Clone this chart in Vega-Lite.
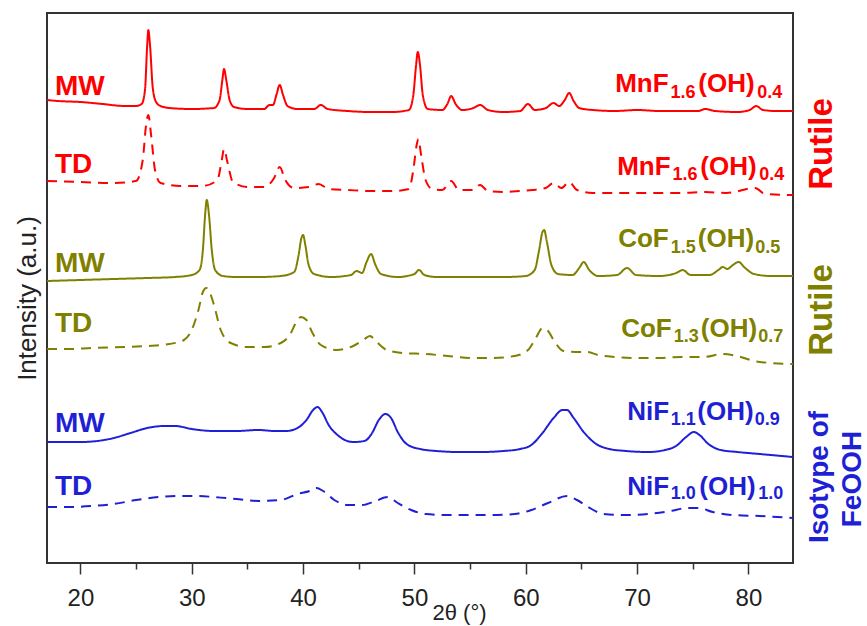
{
"$schema": "https://vega.github.io/schema/vega-lite/v6.json",
"width": 746, "height": 550,
"autosize": {"type": "none"},
"padding": {"left": 47, "top": 13, "right": 74, "bottom": 63},
"background": "white",
"config": {"view": {"stroke": "#333333", "strokeWidth": 2}, "font": "Liberation Sans"},
"datasets": {
"curves": [
{"sample":"Mn","method":"MW","x":17,"y":463},{"sample":"Mn","method":"MW","x":18,"y":462},{"sample":"Mn","method":"MW","x":20,"y":461},{"sample":"Mn","method":"MW","x":22,"y":459},{"sample":"Mn","method":"MW","x":24,"y":457},{"sample":"Mn","method":"MW","x":25,"y":457},{"sample":"Mn","method":"MW","x":25.5,"y":459},{"sample":"Mn","method":"MW","x":25.8,"y":473},{"sample":"Mn","method":"MW","x":26.0,"y":518},{"sample":"Mn","method":"MW","x":26.1,"y":533},{"sample":"Mn","method":"MW","x":26.25,"y":518},{"sample":"Mn","method":"MW","x":26.5,"y":475},{"sample":"Mn","method":"MW","x":26.8,"y":461},{"sample":"Mn","method":"MW","x":27.2,"y":457},{"sample":"Mn","method":"MW","x":28,"y":455},{"sample":"Mn","method":"MW","x":30,"y":454},{"sample":"Mn","method":"MW","x":32,"y":455},{"sample":"Mn","method":"MW","x":32.5,"y":463},{"sample":"Mn","method":"MW","x":32.75,"y":483},{"sample":"Mn","method":"MW","x":32.9,"y":494},{"sample":"Mn","method":"MW","x":33.1,"y":483},{"sample":"Mn","method":"MW","x":33.4,"y":463},{"sample":"Mn","method":"MW","x":33.8,"y":456},{"sample":"Mn","method":"MW","x":35,"y":454},{"sample":"Mn","method":"MW","x":36.5,"y":454},{"sample":"Mn","method":"MW","x":37.0,"y":458},{"sample":"Mn","method":"MW","x":37.3,"y":458},{"sample":"Mn","method":"MW","x":37.6,"y":468},{"sample":"Mn","method":"MW","x":37.9,"y":478},{"sample":"Mn","method":"MW","x":38.2,"y":468},{"sample":"Mn","method":"MW","x":38.6,"y":457},{"sample":"Mn","method":"MW","x":39.5,"y":454},{"sample":"Mn","method":"MW","x":41,"y":454},{"sample":"Mn","method":"MW","x":41.6,"y":458},{"sample":"Mn","method":"MW","x":42.2,"y":454},{"sample":"Mn","method":"MW","x":44,"y":452},{"sample":"Mn","method":"MW","x":46,"y":451},{"sample":"Mn","method":"MW","x":48,"y":451},{"sample":"Mn","method":"MW","x":49.5,"y":453},{"sample":"Mn","method":"MW","x":49.9,"y":468},{"sample":"Mn","method":"MW","x":50.15,"y":498},{"sample":"Mn","method":"MW","x":50.3,"y":511},{"sample":"Mn","method":"MW","x":50.5,"y":498},{"sample":"Mn","method":"MW","x":50.75,"y":468},{"sample":"Mn","method":"MW","x":51.2,"y":454},{"sample":"Mn","method":"MW","x":52.5,"y":453},{"sample":"Mn","method":"MW","x":53.0,"y":460},{"sample":"Mn","method":"MW","x":53.3,"y":467},{"sample":"Mn","method":"MW","x":53.7,"y":459},{"sample":"Mn","method":"MW","x":54.3,"y":453},{"sample":"Mn","method":"MW","x":55.3,"y":455},{"sample":"Mn","method":"MW","x":55.9,"y":458},{"sample":"Mn","method":"MW","x":56.6,"y":453},{"sample":"Mn","method":"MW","x":58,"y":451},{"sample":"Mn","method":"MW","x":59.5,"y":452},{"sample":"Mn","method":"MW","x":60.2,"y":459},{"sample":"Mn","method":"MW","x":60.8,"y":453},{"sample":"Mn","method":"MW","x":61.8,"y":455},{"sample":"Mn","method":"MW","x":62.5,"y":460},{"sample":"Mn","method":"MW","x":63.0,"y":457},{"sample":"Mn","method":"MW","x":63.5,"y":463},{"sample":"Mn","method":"MW","x":63.9,"y":470},{"sample":"Mn","method":"MW","x":64.3,"y":462},{"sample":"Mn","method":"MW","x":64.8,"y":455},{"sample":"Mn","method":"MW","x":66,"y":453},{"sample":"Mn","method":"MW","x":68,"y":452},{"sample":"Mn","method":"MW","x":70,"y":453},{"sample":"Mn","method":"MW","x":72,"y":452},{"sample":"Mn","method":"MW","x":74,"y":452},{"sample":"Mn","method":"MW","x":75.5,"y":452},{"sample":"Mn","method":"MW","x":76.1,"y":454},{"sample":"Mn","method":"MW","x":77,"y":452},{"sample":"Mn","method":"MW","x":79,"y":451},{"sample":"Mn","method":"MW","x":80.1,"y":453},{"sample":"Mn","method":"MW","x":80.7,"y":457},{"sample":"Mn","method":"MW","x":81.3,"y":453},{"sample":"Mn","method":"MW","x":82.5,"y":452},{"sample":"Mn","method":"MW","x":84,"y":452},
{"sample":"Mn","method":"TD","x":17,"y":382},{"sample":"Mn","method":"TD","x":20,"y":381},{"sample":"Mn","method":"TD","x":23,"y":380},{"sample":"Mn","method":"TD","x":25,"y":382},{"sample":"Mn","method":"TD","x":25.6,"y":403},{"sample":"Mn","method":"TD","x":25.9,"y":438},{"sample":"Mn","method":"TD","x":26.1,"y":448},{"sample":"Mn","method":"TD","x":26.35,"y":428},{"sample":"Mn","method":"TD","x":26.7,"y":393},{"sample":"Mn","method":"TD","x":27.2,"y":380},{"sample":"Mn","method":"TD","x":29,"y":377},{"sample":"Mn","method":"TD","x":31,"y":377},{"sample":"Mn","method":"TD","x":32.3,"y":383},{"sample":"Mn","method":"TD","x":32.7,"y":403},{"sample":"Mn","method":"TD","x":32.9,"y":414},{"sample":"Mn","method":"TD","x":33.2,"y":401},{"sample":"Mn","method":"TD","x":33.7,"y":381},{"sample":"Mn","method":"TD","x":35,"y":376},{"sample":"Mn","method":"TD","x":36.5,"y":376},{"sample":"Mn","method":"TD","x":37.4,"y":385},{"sample":"Mn","method":"TD","x":37.9,"y":396},{"sample":"Mn","method":"TD","x":38.4,"y":383},{"sample":"Mn","method":"TD","x":39.2,"y":375},{"sample":"Mn","method":"TD","x":40.5,"y":376},{"sample":"Mn","method":"TD","x":41.4,"y":379},{"sample":"Mn","method":"TD","x":42.3,"y":374},{"sample":"Mn","method":"TD","x":44,"y":373},{"sample":"Mn","method":"TD","x":46,"y":372},{"sample":"Mn","method":"TD","x":48,"y":372},{"sample":"Mn","method":"TD","x":49.5,"y":374},{"sample":"Mn","method":"TD","x":49.9,"y":393},{"sample":"Mn","method":"TD","x":50.2,"y":418},{"sample":"Mn","method":"TD","x":50.35,"y":424},{"sample":"Mn","method":"TD","x":50.6,"y":408},{"sample":"Mn","method":"TD","x":51,"y":383},{"sample":"Mn","method":"TD","x":51.6,"y":374},{"sample":"Mn","method":"TD","x":52.5,"y":373},{"sample":"Mn","method":"TD","x":53.3,"y":382},{"sample":"Mn","method":"TD","x":54,"y":373},{"sample":"Mn","method":"TD","x":55.2,"y":373},{"sample":"Mn","method":"TD","x":55.9,"y":378},{"sample":"Mn","method":"TD","x":56.6,"y":372},{"sample":"Mn","method":"TD","x":58,"y":371},{"sample":"Mn","method":"TD","x":59.5,"y":372},{"sample":"Mn","method":"TD","x":60.6,"y":373},{"sample":"Mn","method":"TD","x":61.8,"y":375},{"sample":"Mn","method":"TD","x":62.5,"y":380},{"sample":"Mn","method":"TD","x":63.2,"y":375},{"sample":"Mn","method":"TD","x":63.9,"y":381},{"sample":"Mn","method":"TD","x":64.6,"y":373},{"sample":"Mn","method":"TD","x":66,"y":370},{"sample":"Mn","method":"TD","x":70,"y":370},{"sample":"Mn","method":"TD","x":74,"y":370},{"sample":"Mn","method":"TD","x":76.1,"y":371},{"sample":"Mn","method":"TD","x":78,"y":370},{"sample":"Mn","method":"TD","x":80.6,"y":375},{"sample":"Mn","method":"TD","x":81.5,"y":369},{"sample":"Mn","method":"TD","x":84,"y":368},
{"sample":"Co","method":"MW","x":17,"y":282},{"sample":"Co","method":"MW","x":20,"y":283},{"sample":"Co","method":"MW","x":23,"y":284},{"sample":"Co","method":"MW","x":26,"y":285},{"sample":"Co","method":"MW","x":28.5,"y":286},{"sample":"Co","method":"MW","x":30,"y":288},{"sample":"Co","method":"MW","x":30.7,"y":293},{"sample":"Co","method":"MW","x":31.0,"y":313},{"sample":"Co","method":"MW","x":31.2,"y":348},{"sample":"Co","method":"MW","x":31.35,"y":363},{"sample":"Co","method":"MW","x":31.55,"y":348},{"sample":"Co","method":"MW","x":31.8,"y":313},{"sample":"Co","method":"MW","x":32.1,"y":293},{"sample":"Co","method":"MW","x":32.8,"y":287},{"sample":"Co","method":"MW","x":34,"y":286},{"sample":"Co","method":"MW","x":36,"y":286},{"sample":"Co","method":"MW","x":38,"y":287},{"sample":"Co","method":"MW","x":39.2,"y":291},{"sample":"Co","method":"MW","x":39.6,"y":308},{"sample":"Co","method":"MW","x":39.85,"y":325},{"sample":"Co","method":"MW","x":40.0,"y":328},{"sample":"Co","method":"MW","x":40.2,"y":318},{"sample":"Co","method":"MW","x":40.5,"y":298},{"sample":"Co","method":"MW","x":41,"y":289},{"sample":"Co","method":"MW","x":42.5,"y":286},{"sample":"Co","method":"MW","x":44.3,"y":288},{"sample":"Co","method":"MW","x":44.8,"y":292},{"sample":"Co","method":"MW","x":45.3,"y":290},{"sample":"Co","method":"MW","x":45.7,"y":301},{"sample":"Co","method":"MW","x":46.1,"y":309},{"sample":"Co","method":"MW","x":46.5,"y":298},{"sample":"Co","method":"MW","x":47,"y":289},{"sample":"Co","method":"MW","x":48.5,"y":286},{"sample":"Co","method":"MW","x":50,"y":289},{"sample":"Co","method":"MW","x":50.4,"y":293},{"sample":"Co","method":"MW","x":50.9,"y":288},{"sample":"Co","method":"MW","x":52,"y":286},{"sample":"Co","method":"MW","x":55,"y":286},{"sample":"Co","method":"MW","x":58,"y":286},{"sample":"Co","method":"MW","x":60,"y":287},{"sample":"Co","method":"MW","x":60.8,"y":293},{"sample":"Co","method":"MW","x":61.2,"y":313},{"sample":"Co","method":"MW","x":61.5,"y":331},{"sample":"Co","method":"MW","x":61.65,"y":333},{"sample":"Co","method":"MW","x":61.9,"y":321},{"sample":"Co","method":"MW","x":62.3,"y":298},{"sample":"Co","method":"MW","x":62.9,"y":289},{"sample":"Co","method":"MW","x":64.2,"y":288},{"sample":"Co","method":"MW","x":64.8,"y":295},{"sample":"Co","method":"MW","x":65.2,"y":301},{"sample":"Co","method":"MW","x":65.7,"y":293},{"sample":"Co","method":"MW","x":66.5,"y":287},{"sample":"Co","method":"MW","x":68.2,"y":288},{"sample":"Co","method":"MW","x":69.1,"y":295},{"sample":"Co","method":"MW","x":69.9,"y":288},{"sample":"Co","method":"MW","x":72,"y":287},{"sample":"Co","method":"MW","x":73.5,"y":290},{"sample":"Co","method":"MW","x":74.1,"y":293},{"sample":"Co","method":"MW","x":74.8,"y":288},{"sample":"Co","method":"MW","x":76.5,"y":288},{"sample":"Co","method":"MW","x":77.3,"y":293},{"sample":"Co","method":"MW","x":77.7,"y":296},{"sample":"Co","method":"MW","x":78.1,"y":294},{"sample":"Co","method":"MW","x":78.6,"y":298},{"sample":"Co","method":"MW","x":79.1,"y":301},{"sample":"Co","method":"MW","x":79.7,"y":295},{"sample":"Co","method":"MW","x":80.5,"y":289},{"sample":"Co","method":"MW","x":82,"y":287},{"sample":"Co","method":"MW","x":84,"y":287},
{"sample":"Co","method":"TD","x":17,"y":214},{"sample":"Co","method":"TD","x":19,"y":214},{"sample":"Co","method":"TD","x":21,"y":215},{"sample":"Co","method":"TD","x":24,"y":216},{"sample":"Co","method":"TD","x":26,"y":217},{"sample":"Co","method":"TD","x":28,"y":219},{"sample":"Co","method":"TD","x":29.3,"y":223},{"sample":"Co","method":"TD","x":30,"y":233},{"sample":"Co","method":"TD","x":30.6,"y":253},{"sample":"Co","method":"TD","x":31,"y":271},{"sample":"Co","method":"TD","x":31.3,"y":275},{"sample":"Co","method":"TD","x":31.6,"y":271},{"sample":"Co","method":"TD","x":32,"y":258},{"sample":"Co","method":"TD","x":32.6,"y":233},{"sample":"Co","method":"TD","x":33.5,"y":220},{"sample":"Co","method":"TD","x":35,"y":216},{"sample":"Co","method":"TD","x":36.5,"y":216},{"sample":"Co","method":"TD","x":38,"y":220},{"sample":"Co","method":"TD","x":38.8,"y":228},{"sample":"Co","method":"TD","x":39.4,"y":241},{"sample":"Co","method":"TD","x":39.8,"y":246},{"sample":"Co","method":"TD","x":40.3,"y":243},{"sample":"Co","method":"TD","x":40.8,"y":231},{"sample":"Co","method":"TD","x":41.6,"y":218},{"sample":"Co","method":"TD","x":43,"y":213},{"sample":"Co","method":"TD","x":44.5,"y":217},{"sample":"Co","method":"TD","x":45.4,"y":223},{"sample":"Co","method":"TD","x":46,"y":227},{"sample":"Co","method":"TD","x":46.6,"y":221},{"sample":"Co","method":"TD","x":47.5,"y":213},{"sample":"Co","method":"TD","x":49,"y":210},{"sample":"Co","method":"TD","x":51,"y":209},{"sample":"Co","method":"TD","x":53,"y":207},{"sample":"Co","method":"TD","x":55,"y":205},{"sample":"Co","method":"TD","x":57,"y":205},{"sample":"Co","method":"TD","x":59,"y":207},{"sample":"Co","method":"TD","x":60.2,"y":213},{"sample":"Co","method":"TD","x":60.9,"y":225},{"sample":"Co","method":"TD","x":61.5,"y":235},{"sample":"Co","method":"TD","x":62,"y":232},{"sample":"Co","method":"TD","x":62.6,"y":221},{"sample":"Co","method":"TD","x":63.4,"y":212},{"sample":"Co","method":"TD","x":64.5,"y":211},{"sample":"Co","method":"TD","x":65.5,"y":211},{"sample":"Co","method":"TD","x":66.5,"y":208},{"sample":"Co","method":"TD","x":68,"y":206},{"sample":"Co","method":"TD","x":70,"y":205},{"sample":"Co","method":"TD","x":72,"y":205},{"sample":"Co","method":"TD","x":74,"y":206},{"sample":"Co","method":"TD","x":76,"y":206},{"sample":"Co","method":"TD","x":77.7,"y":209},{"sample":"Co","method":"TD","x":79,"y":207},{"sample":"Co","method":"TD","x":80.5,"y":202},{"sample":"Co","method":"TD","x":82,"y":200},{"sample":"Co","method":"TD","x":84,"y":199},
{"sample":"Ni","method":"MW","x":17,"y":121},{"sample":"Ni","method":"MW","x":18.5,"y":121},{"sample":"Ni","method":"MW","x":20,"y":121},{"sample":"Ni","method":"MW","x":21.5,"y":122},{"sample":"Ni","method":"MW","x":23,"y":125},{"sample":"Ni","method":"MW","x":24.5,"y":130},{"sample":"Ni","method":"MW","x":26,"y":135},{"sample":"Ni","method":"MW","x":27.5,"y":137},{"sample":"Ni","method":"MW","x":28.5,"y":137},{"sample":"Ni","method":"MW","x":30,"y":134},{"sample":"Ni","method":"MW","x":32,"y":132},{"sample":"Ni","method":"MW","x":34,"y":132},{"sample":"Ni","method":"MW","x":36,"y":133},{"sample":"Ni","method":"MW","x":37.5,"y":132},{"sample":"Ni","method":"MW","x":38.5,"y":132},{"sample":"Ni","method":"MW","x":39.5,"y":135},{"sample":"Ni","method":"MW","x":40.3,"y":143},{"sample":"Ni","method":"MW","x":40.9,"y":153},{"sample":"Ni","method":"MW","x":41.3,"y":156},{"sample":"Ni","method":"MW","x":41.7,"y":151},{"sample":"Ni","method":"MW","x":42.3,"y":138},{"sample":"Ni","method":"MW","x":43.2,"y":127},{"sample":"Ni","method":"MW","x":44.5,"y":121},{"sample":"Ni","method":"MW","x":45.5,"y":122},{"sample":"Ni","method":"MW","x":46.2,"y":130},{"sample":"Ni","method":"MW","x":46.8,"y":143},{"sample":"Ni","method":"MW","x":47.4,"y":149},{"sample":"Ni","method":"MW","x":47.9,"y":145},{"sample":"Ni","method":"MW","x":48.5,"y":131},{"sample":"Ni","method":"MW","x":49.3,"y":119},{"sample":"Ni","method":"MW","x":50.5,"y":114},{"sample":"Ni","method":"MW","x":52,"y":112},{"sample":"Ni","method":"MW","x":54,"y":111},{"sample":"Ni","method":"MW","x":56,"y":111},{"sample":"Ni","method":"MW","x":58,"y":112},{"sample":"Ni","method":"MW","x":59.5,"y":114},{"sample":"Ni","method":"MW","x":60.5,"y":118},{"sample":"Ni","method":"MW","x":61.5,"y":130},{"sample":"Ni","method":"MW","x":62.5,"y":145},{"sample":"Ni","method":"MW","x":63.3,"y":153},{"sample":"Ni","method":"MW","x":63.7,"y":153},{"sample":"Ni","method":"MW","x":64.3,"y":145},{"sample":"Ni","method":"MW","x":65.2,"y":131},{"sample":"Ni","method":"MW","x":66.2,"y":120},{"sample":"Ni","method":"MW","x":67.5,"y":114},{"sample":"Ni","method":"MW","x":69,"y":112},{"sample":"Ni","method":"MW","x":71,"y":111},{"sample":"Ni","method":"MW","x":72.5,"y":113},{"sample":"Ni","method":"MW","x":73.5,"y":117},{"sample":"Ni","method":"MW","x":74.4,"y":126},{"sample":"Ni","method":"MW","x":75.1,"y":131},{"sample":"Ni","method":"MW","x":75.6,"y":128},{"sample":"Ni","method":"MW","x":76.4,"y":119},{"sample":"Ni","method":"MW","x":77.5,"y":113},{"sample":"Ni","method":"MW","x":79,"y":111},{"sample":"Ni","method":"MW","x":81,"y":109},{"sample":"Ni","method":"MW","x":84,"y":106},
{"sample":"Ni","method":"TD","x":17,"y":56},{"sample":"Ni","method":"TD","x":19,"y":56},{"sample":"Ni","method":"TD","x":21,"y":57},{"sample":"Ni","method":"TD","x":23,"y":59},{"sample":"Ni","method":"TD","x":25,"y":63},{"sample":"Ni","method":"TD","x":27,"y":66},{"sample":"Ni","method":"TD","x":29,"y":67},{"sample":"Ni","method":"TD","x":30.5,"y":67},{"sample":"Ni","method":"TD","x":32,"y":66},{"sample":"Ni","method":"TD","x":34,"y":64},{"sample":"Ni","method":"TD","x":36,"y":62},{"sample":"Ni","method":"TD","x":38,"y":63},{"sample":"Ni","method":"TD","x":39.5,"y":69},{"sample":"Ni","method":"TD","x":40.6,"y":72},{"sample":"Ni","method":"TD","x":41.2,"y":75},{"sample":"Ni","method":"TD","x":41.8,"y":72},{"sample":"Ni","method":"TD","x":42.8,"y":63},{"sample":"Ni","method":"TD","x":44,"y":58},{"sample":"Ni","method":"TD","x":45.3,"y":58},{"sample":"Ni","method":"TD","x":46.5,"y":62},{"sample":"Ni","method":"TD","x":47.6,"y":66},{"sample":"Ni","method":"TD","x":48.5,"y":60},{"sample":"Ni","method":"TD","x":49.7,"y":53},{"sample":"Ni","method":"TD","x":51,"y":49},{"sample":"Ni","method":"TD","x":53,"y":48},{"sample":"Ni","method":"TD","x":55,"y":48},{"sample":"Ni","method":"TD","x":57,"y":48},{"sample":"Ni","method":"TD","x":59,"y":49},{"sample":"Ni","method":"TD","x":60.5,"y":53},{"sample":"Ni","method":"TD","x":62,"y":60},{"sample":"Ni","method":"TD","x":63.7,"y":67},{"sample":"Ni","method":"TD","x":64.6,"y":63},{"sample":"Ni","method":"TD","x":65.6,"y":56},{"sample":"Ni","method":"TD","x":67,"y":49},{"sample":"Ni","method":"TD","x":69,"y":48},{"sample":"Ni","method":"TD","x":71,"y":49},{"sample":"Ni","method":"TD","x":73,"y":52},{"sample":"Ni","method":"TD","x":74.5,"y":55},{"sample":"Ni","method":"TD","x":75.5,"y":55},{"sample":"Ni","method":"TD","x":76.8,"y":51},{"sample":"Ni","method":"TD","x":78.5,"y":48},{"sample":"Ni","method":"TD","x":81,"y":47},{"sample":"Ni","method":"TD","x":84,"y":45}
],
"tags": [
{"text":"MW","x":17.72,"y":468,"sample":"Mn"},{"text":"TD","x":17.72,"y":390,"sample":"Mn"},
{"text":"MW","x":17.72,"y":291,"sample":"Co"},{"text":"TD","x":17.72,"y":231,"sample":"Co"},
{"text":"MW","x":17.72,"y":131,"sample":"Ni"},{"text":"TD","x":17.72,"y":68,"sample":"Ni"}
],
"main": [
{"text":"MnF","x":68.03,"y":471,"sample":"Mn"},{"text":"(OH)","x":75.49,"y":471,"sample":"Mn"},
{"text":"MnF","x":68.21,"y":388,"sample":"Mn"},{"text":"(OH)","x":75.67,"y":388,"sample":"Mn"},
{"text":"CoF","x":68.30,"y":316,"sample":"Co"},{"text":"(OH)","x":75.45,"y":316,"sample":"Co"},
{"text":"CoF","x":68.57,"y":226,"sample":"Co"},{"text":"(OH)","x":75.72,"y":226,"sample":"Co"},
{"text":"NiF","x":69.11,"y":143,"sample":"Ni"},{"text":"(OH)","x":75.40,"y":143,"sample":"Ni"},
{"text":"NiF","x":69.11,"y":68,"sample":"Ni"},{"text":"(OH)","x":75.58,"y":68,"sample":"Ni"}
],
"sub": [
{"text":"1.6","x":73.0,"y":465,"sample":"Mn"},{"text":"0.4","x":80.79,"y":465,"sample":"Mn"},
{"text":"1.6","x":73.18,"y":383,"sample":"Mn"},{"text":"0.4","x":80.97,"y":383,"sample":"Mn"},
{"text":"1.5","x":73.02,"y":310,"sample":"Co"},{"text":"0.5","x":80.61,"y":310,"sample":"Co"},
{"text":"1.3","x":73.29,"y":221,"sample":"Co"},{"text":"0.7","x":80.88,"y":221,"sample":"Co"},
{"text":"1.1","x":73.02,"y":138,"sample":"Ni"},{"text":"0.9","x":80.57,"y":138,"sample":"Ni"},
{"text":"1.0","x":73.02,"y":64,"sample":"Ni"},{"text":"1.0","x":80.88,"y":64,"sample":"Ni"}
],
"rutile": [
{"text":"Rutile","x":86.63,"y":419,"sample":"Mn"},{"text":"Rutile","x":86.63,"y":253,"sample":"Co"}
],
"isotype": [
{"text":"Isotype of","x":86.45,"y":86,"sample":"Ni"},{"text":"FeOOH","x":89.42,"y":84,"sample":"Ni"}
]
},
"layer": [
{"data": {"name": "curves"},
 "mark": {"type": "line", "strokeWidth": 2, "clip": true, "interpolate": "monotone"},
 "encoding": {
  "x": {"field": "x", "type": "quantitative", "scale": {"domain": [17, 84], "nice": false, "zero": false},
        "axis": {"title": "2θ (°)", "values": [20,25,30,35,40,45,50,55,60,65,70,75,80],
                 "labelExpr": "datum.value % 10 === 0 ? datum.label : ''",
                 "grid": false, "domain": false,
                 "tickSize": {"condition": {"test": "datum.value % 10 === 0", "value": 11}, "value": 6},
                 "tickColor": "#333333", "tickWidth": 1.5,
                 "labelFontSize": 24, "labelColor": "#222222", "labelPadding": 12, "labelFont": "Liberation Sans",
                 "titleFontSize": 22, "titleFontWeight": "normal", "titleColor": "#222222", "titleFont": "Liberation Sans",
                 "titleX": 412, "titleY": 56, "titleBaseline": "alphabetic", "titleAlign": "center"}},
  "y": {"field": "y", "type": "quantitative", "scale": {"domain": [0, 550], "nice": false, "zero": false},
        "axis": {"title": "Intensity (a.u.)", "ticks": false, "labels": false, "domain": false, "grid": false,
                 "titleFontSize": 26, "titleFontWeight": "normal", "titleColor": "#222222", "titleFont": "Liberation Sans",
                 "titleX": -12, "titleY": 285, "titleAngle": -90, "titleAlign": "center", "titleBaseline": "alphabetic"}},
  "color": {"field": "sample", "type": "nominal", "scale": {"domain": ["Mn","Co","Ni"], "range": ["#ff0000","#808000","#1f1fd6"]}, "legend": null},
  "strokeDash": {"field": "method", "type": "nominal", "scale": {"domain": ["MW","TD"], "range": [[1,0],[10,7]]}, "legend": null}
 }},
{"data": {"name": "tags"},
 "mark": {"type": "text", "fontSize": 28, "fontWeight": "bold", "align": "left", "baseline": "alphabetic", "font": "Liberation Sans"},
 "encoding": {"x": {"field": "x", "type": "quantitative"}, "y": {"field": "y", "type": "quantitative"}, "text": {"field": "text"},
  "color": {"field": "sample", "type": "nominal", "legend": null}}},
{"data": {"name": "main"},
 "mark": {"type": "text", "fontSize": 26, "fontWeight": "bold", "align": "left", "baseline": "alphabetic", "font": "Liberation Sans"},
 "encoding": {"x": {"field": "x", "type": "quantitative"}, "y": {"field": "y", "type": "quantitative"}, "text": {"field": "text"},
  "color": {"field": "sample", "type": "nominal", "legend": null}}},
{"data": {"name": "sub"},
 "mark": {"type": "text", "fontSize": 18, "fontWeight": "bold", "align": "left", "baseline": "alphabetic", "font": "Liberation Sans"},
 "encoding": {"x": {"field": "x", "type": "quantitative"}, "y": {"field": "y", "type": "quantitative"}, "text": {"field": "text"},
  "color": {"field": "sample", "type": "nominal", "legend": null}}},
{"data": {"name": "rutile"},
 "mark": {"type": "text", "fontSize": 33, "fontWeight": "bold", "align": "center", "baseline": "middle", "angle": 270, "font": "Liberation Sans"},
 "encoding": {"x": {"field": "x", "type": "quantitative"}, "y": {"field": "y", "type": "quantitative"}, "text": {"field": "text"},
  "color": {"field": "sample", "type": "nominal", "legend": null}}},
{"data": {"name": "isotype"},
 "mark": {"type": "text", "fontSize": 28, "fontWeight": "bold", "align": "center", "baseline": "middle", "angle": 270, "font": "Liberation Sans"},
 "encoding": {"x": {"field": "x", "type": "quantitative"}, "y": {"field": "y", "type": "quantitative"}, "text": {"field": "text"},
  "color": {"field": "sample", "type": "nominal", "legend": null}}}
]
}
